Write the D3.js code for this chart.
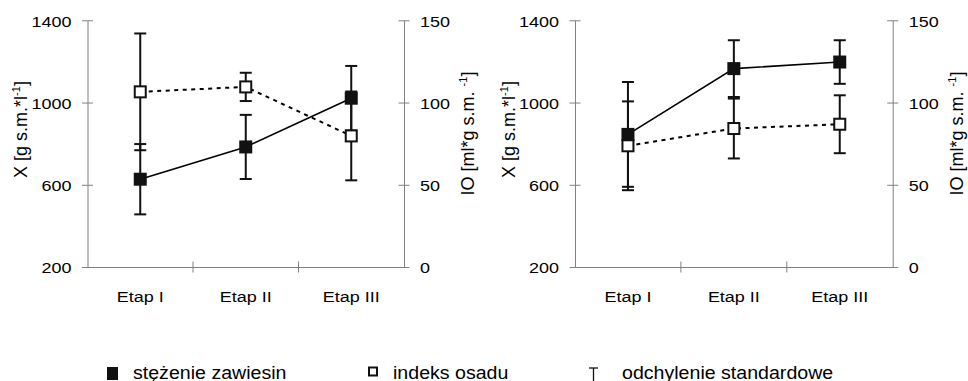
<!DOCTYPE html>
<html><head><meta charset="utf-8">
<script src="https://cdn.jsdelivr.net/npm/d3@7"></script>
<style>
body{margin:0;background:#fff}
svg text{font-family:"Liberation Sans",Arial,sans-serif;fill:#000}
</style>
</head><body>
<svg id="c" width="968" height="381"></svg>
<script>
// ---- data ----
const categories = ["Etap I", "Etap II", "Etap III"];
const concTicks = [200, 600, 1000, 1400];
const ioTicks = [0, 50, 100, 150];
// left panel
const conc1 = [627, 784, 1021];
const conc1Sd = [171, 156, 157];
const io1 = [106.5, 109.5, 79.7];
const io1Sd = [35.5, 8.6, 27];
// right panel
const conc2 = [845, 1165, 1197];
const conc2Sd = [255, 138, 106];
const io2 = [73.7, 84.2, 86.8];
const io2Sd = [27, 18.2, 17.6];
const legendLabels = ["stężenie zawiesin", "indeks osadu", "odchylenie standardowe"];
const titleLeft = ["X [g s.m.*l", "-1", "]"];
const titleRight = ["IO [ml*g s.m. ", "-1", "]"];

const svg = d3.select("#c");
const AX = "#808080";
const SX = 1.16;
const TOP = 20.3, BOT = 267;

function drawPanel(x0, x1, conc, concSd, io, ioSd) {
  const g = svg.append("g");
  const x = d3.scaleBand().domain(categories).range([x0, x1]);
  const yL = d3.scaleLinear().domain([200, 1400]).range([BOT, TOP]);
  const yR = d3.scaleLinear().domain([0, 150]).range([BOT, TOP]);
  const cx = c => x(c) + x.bandwidth() / 2;

  // bottom axis
  const gb = g.append("g").attr("transform", `translate(0,${BOT})`)
    .call(d3.axisBottom(x).tickSize(0).tickSizeOuter(0));
  gb.select(".domain").attr("stroke", AX);
  gb.selectAll(".tick text").attr("font-size", 15.5).attr("y", 0).attr("dy", 0)
    .attr("transform", `translate(0,34.7) scale(${SX},1)`);
  for (let i = 1; i < categories.length; i++) {
    const xx = x0 + i * x.step();
    g.append("line").attr("x1", xx).attr("x2", xx).attr("y1", BOT - 5.5).attr("y2", BOT + 5.5).attr("stroke", AX);
  }

  // left axis
  const gl = g.append("g").attr("transform", `translate(${x0},0)`)
    .call(d3.axisLeft(yL).tickValues(concTicks).tickSize(5.5).tickSizeOuter(0).tickFormat(d3.format("d")));
  gl.select(".domain").attr("stroke", AX);
  gl.selectAll(".tick line").attr("stroke", AX).attr("x1", 5.5);
  gl.selectAll(".tick text").attr("font-size", 15.5).attr("x", 0).attr("dy", "0.38em")
    .attr("transform", `translate(-16,0) scale(${SX},1)`);

  // right axis
  const gr = g.append("g").attr("transform", `translate(${x1},0)`)
    .call(d3.axisRight(yR).tickValues(ioTicks).tickSize(5.5).tickSizeOuter(0).tickFormat(d3.format("d")));
  gr.select(".domain").attr("stroke", AX);
  gr.selectAll(".tick line").attr("stroke", AX).attr("x1", -5.5);
  gr.selectAll(".tick text").attr("font-size", 15.5).attr("x", 0).attr("dy", "0.38em")
    .attr("transform", `translate(16,0) scale(${SX},1)`);

  // axis titles
  function title(bx, cy, parts) {
    const t = g.append("text").attr("transform", `translate(${bx},${cy}) rotate(-90)`)
      .attr("text-anchor", "middle").attr("font-size", 18);
    t.append("tspan").text(parts[0]);
    t.append("tspan").attr("font-size", 11).attr("dy", -7).text(parts[1]);
    t.append("tspan").attr("dy", 7).text(parts[2]);
  }
  title(x0 - 60.5, 129.5, titleLeft);
  title(x1 + 70, 133.5, titleRight);

  const concData = categories.map((c, i) => ({c, v: conc[i], sd: concSd[i]}));
  const ioData = categories.map((c, i) => ({c, v: io[i], sd: ioSd[i]}));

  // lines
  g.append("path").datum(concData).attr("fill", "none").attr("stroke", "#000").attr("stroke-width", 1.6)
    .attr("d", d3.line().x(d => cx(d.c)).y(d => yL(d.v)));
  g.append("path").datum(ioData).attr("fill", "none").attr("stroke", "#000").attr("stroke-width", 2)
    .attr("stroke-dasharray", "4,4.5")
    .attr("d", d3.line().x(d => cx(d.c)).y(d => yR(d.v)));

  // error bars
  function errBars(data, y) {
    const eb = g.append("g").attr("stroke", "#111").attr("stroke-width", 2);
    data.forEach(d => {
      const xx = cx(d.c), t = y(d.v + d.sd), b = y(d.v - d.sd);
      eb.append("line").attr("x1", xx).attr("x2", xx).attr("y1", t).attr("y2", b);
      eb.append("line").attr("x1", xx - 6).attr("x2", xx + 6).attr("y1", t).attr("y2", t);
      eb.append("line").attr("x1", xx - 6).attr("x2", xx + 6).attr("y1", b).attr("y2", b);
    });
  }
  errBars(concData, yL);
  errBars(ioData, yR);

  // markers
  g.selectAll(".mf").data(concData).join("rect")
    .attr("x", d => cx(d.c) - 6.5).attr("y", d => yL(d.v) - 6.5)
    .attr("width", 13).attr("height", 13).attr("fill", "#111");
  g.selectAll(".mo").data(ioData).join("rect")
    .attr("x", d => cx(d.c) - 5.5).attr("y", d => yR(d.v) - 5.5)
    .attr("width", 11).attr("height", 11).attr("fill", "#fff").attr("stroke", "#111").attr("stroke-width", 2);
}

drawPanel(87.5, 404, conc1, conc1Sd, io1, io1Sd);
drawPanel(575, 892.7, conc2, conc2Sd, io2, io2Sd);

// legend
const lg = svg.append("g");
const LSX = 1.12, LY = 378.5;
lg.append("rect").attr("x", 107).attr("y", 367).attr("width", 11).attr("height", 13).attr("fill", "#111");
lg.append("rect").attr("x", 369).attr("y", 367.5).attr("width", 8).attr("height", 8)
  .attr("fill", "#fff").attr("stroke", "#111").attr("stroke-width", 2);
lg.append("line").attr("x1", 589).attr("x2", 598).attr("y1", 368).attr("y2", 368).attr("stroke", "#111").attr("stroke-width", 1.3);
lg.append("line").attr("x1", 593.5).attr("x2", 593.5).attr("y1", 368).attr("y2", 381).attr("stroke", "#111").attr("stroke-width", 1.3);
[133, 393, 622].forEach((lx, i) => {
  lg.append("text").attr("font-size", 17.5).attr("transform", `translate(${lx},${LY}) scale(${LSX},1)`)
    .text(legendLabels[i]);
});
</script>
</body></html>
